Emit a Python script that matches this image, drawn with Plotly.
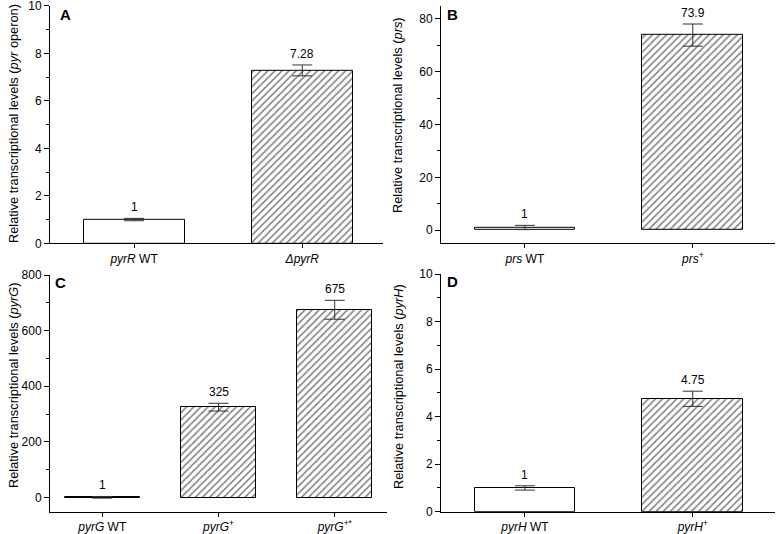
import plotly.graph_objects as go

# ---- data ----
cats_a = ["<i>pyrR</i> WT", "<i>ΔpyrR</i>"]
vals_a = [1, 7.28]
errs_a = [0.05, 0.23]
labels_a = ["1", "7.28"]

cats_b = ["<i>prs</i> WT", "<i>prs</i><sup>+</sup>"]
vals_b = [1, 73.9]
errs_b = [0.8, 4.2]
labels_b = ["1", "73.9"]

cats_c = ["<i>pyrG</i> WT", "<i>pyrG</i><sup>+</sup>", "<i>pyrG</i><sup>+*</sup>"]
vals_c = [1, 325, 675]
errs_c = [3, 14, 34]
labels_c = ["1", "325", "675"]

cats_d = ["<i>pyrH</i> WT", "<i>pyrH</i><sup>+</sup>"]
vals_d = [1, 4.75]
errs_d = [0.09, 0.32]
labels_d = ["1", "4.75"]

ytitles = [
    "Relative transcriptional levels (<i>pyr</i> operon)",
    "Relative transcriptional levels (<i>prs</i>)",
    "Relative transcriptional levels (<i>pyrG</i>)",
    "Relative transcriptional levels (<i>pyrH</i>)",
]
panel_letters = ["A", "B", "C", "D"]

W, H = 778, 534
FONT = "Liberation Sans, Arial, sans-serif"

def px(xp):
    return xp / W

def py(yp):
    return 1 - yp / H

panels = [
    dict(cats=cats_a, vals=vals_a, errs=errs_a, labels=labels_a,
         xdom=[px(50), px(383)], ydom=[py(243.3), py(5.8)],
         yrange=[0, 10], dtick=2, minor=1, xrange=[-0.5, 1.48], width=0.6,
         letter_pos=(58, 4), title_pos=(13, 124)),
    dict(cats=cats_b, vals=vals_b, errs=errs_b, labels=labels_b,
         xdom=[px(441), px(775)], ydom=[py(243.3), py(5.8)],
         yrange=[-5, 85], dtick=20, minor=10, xrange=[-0.5, 1.49], width=0.6,
         letter_pos=(445, 4), title_pos=(398, 115)),
    dict(cats=cats_c, vals=vals_c, errs=errs_c, labels=labels_c,
         xdom=[px(50), px(387)], ydom=[py(511.5), py(275)],
         yrange=[-50, 800], dtick=200, minor=100, xrange=[-0.45, 2.45], width=0.65,
         letter_pos=(53, 272), title_pos=(13, 385)),
    dict(cats=cats_d, vals=vals_d, errs=errs_d, labels=labels_d,
         xdom=[px(441), px(775)], ydom=[py(511.7), py(274)],
         yrange=[0, 10], dtick=2, minor=1, xrange=[-0.5, 1.49], width=0.6,
         letter_pos=(445, 271), title_pos=(398, 386)),
]

fig = go.Figure()
layout = dict(
    width=W, height=H, margin=dict(l=0, r=0, t=0, b=0, autoexpand=False),
    paper_bgcolor="white", plot_bgcolor="white", showlegend=False,
    font=dict(family=FONT, size=12, color="black"),
    bargap=0,
)
annotations = []

for i, p in enumerate(panels):
    n = i + 1
    xa = "x" if n == 1 else f"x{n}"
    ya = "y" if n == 1 else f"y{n}"
    xkey = "xaxis" if n == 1 else f"xaxis{n}"
    ykey = "yaxis" if n == 1 else f"yaxis{n}"
    shapes = [""] + ["/"] * (len(p["vals"]) - 1)
    fig.add_trace(go.Bar(
        x=list(range(len(p["cats"]))), y=p["vals"], width=p["width"],
        xaxis=xa, yaxis=ya,
        marker=dict(color="white", line=dict(color="black", width=1),
                    pattern=dict(shape=shapes, fgcolor="black", bgcolor="white",
                                 size=5, solidity=0.3)),
        error_y=dict(type="data", array=p["errs"], visible=True,
                     color="#333333", thickness=1, width=10),
        hoverinfo="skip",
    ))
    layout[xkey] = dict(
        domain=p["xdom"], anchor=ya, range=p["xrange"], automargin=False,
        tickmode="array", tickvals=list(range(len(p["cats"]))), ticktext=p["cats"],
        showline=True, linecolor="black", linewidth=1,
        ticks="outside", ticklen=4, tickcolor="black",
        showgrid=False, zeroline=False, ticklabeloverflow="allow",
        tickfont=dict(family=FONT, size=12),
    )
    layout[ykey] = dict(
        domain=p["ydom"], anchor=xa, range=p["yrange"], automargin=False,
        tick0=0, dtick=p["dtick"],
        showline=True, linecolor="black", linewidth=1,
        ticks="outside", ticklen=5, tickcolor="black",
        minor=dict(dtick=p["minor"], tick0=0, ticks="outside", ticklen=3, tickcolor="black"),
        showgrid=False, zeroline=False, ticklabeloverflow="allow",
        tickfont=dict(family=FONT, size=12),
    )
    for j, (v, e, lab) in enumerate(zip(p["vals"], p["errs"], p["labels"])):
        annotations.append(dict(
            x=j, y=v + e, xref=xa, yref=ya, text=lab, showarrow=False,
            yanchor="bottom", yshift=2, font=dict(family=FONT, size=12),
        ))
    lx, ly = p["letter_pos"]
    annotations.append(dict(
        x=px(lx), y=py(ly), xref="paper", yref="paper", text=f"<b>{panel_letters[i]}</b>",
        showarrow=False, xanchor="left", yanchor="top",
        font=dict(family=FONT, size=15),
    ))
    tx, ty = p["title_pos"]
    annotations.append(dict(
        x=px(tx), y=py(ty), xref="paper", yref="paper", text=ytitles[i],
        showarrow=False, xanchor="center", yanchor="middle", textangle=-90,
        font=dict(family=FONT, size=12.8),
    ))

layout["annotations"] = annotations
fig.update_layout(**layout)
fig.write_html(
    "out.html",
    config={"displayModeBar": False},
    post_script="document.body.style.margin='0';document.body.style.overflow='hidden';",
)
